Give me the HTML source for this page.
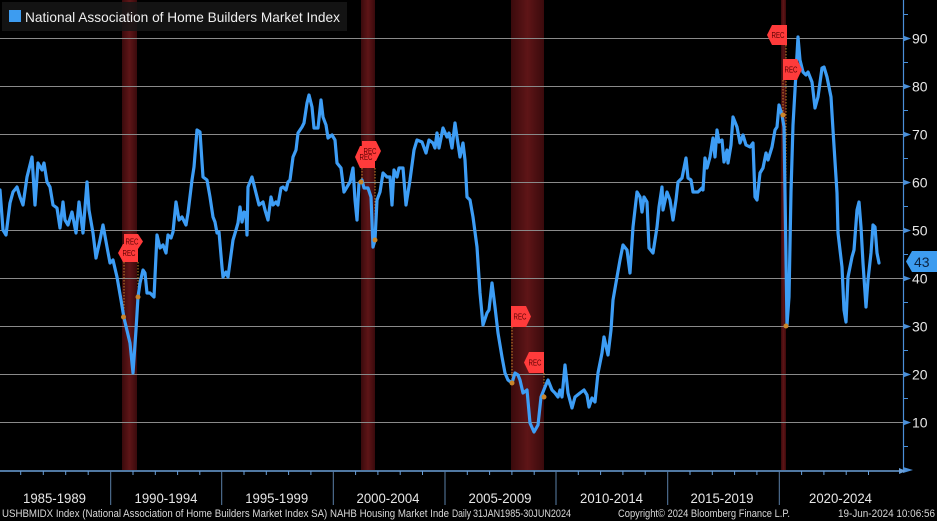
<!DOCTYPE html>
<html><head><meta charset="utf-8"><style>
html,body{margin:0;padding:0;background:#000;}
svg{display:block;}
text{font-family:"Liberation Sans",sans-serif;}
</style></head><body>
<svg width="937" height="521" viewBox="0 0 937 521" xmlns="http://www.w3.org/2000/svg">
<defs>
<linearGradient id="rb" x1="0" x2="1" y1="0" y2="0">
<stop offset="0" stop-color="#3a0a0c"/><stop offset="0.5" stop-color="#5e1517"/><stop offset="1" stop-color="#3a0a0c"/>
</linearGradient>
</defs>
<rect width="937" height="521" fill="#000"/>
<!-- recession bands -->
<rect x="122" y="0" width="15" height="470" fill="url(#rb)"/>
<rect x="361" y="0" width="14" height="470" fill="url(#rb)"/>
<rect x="511" y="0" width="33" height="470" fill="url(#rb)"/>
<rect x="781" y="0" width="5" height="470" fill="url(#rb)"/>
<!-- gridlines -->
<g stroke="#8a8a8a" stroke-width="1">
<line x1="0" x2="903" y1="38.5" y2="38.5"/>
<line x1="0" x2="903" y1="86.5" y2="86.5"/>
<line x1="0" x2="903" y1="134.5" y2="134.5"/>
<line x1="0" x2="903" y1="182.5" y2="182.5"/>
<line x1="0" x2="903" y1="230.5" y2="230.5"/>
<line x1="0" x2="903" y1="278.5" y2="278.5"/>
<line x1="0" x2="903" y1="326.5" y2="326.5"/>
<line x1="0" x2="903" y1="374.5" y2="374.5"/>
<line x1="0" x2="903" y1="422.5" y2="422.5"/>
</g>
<!-- legend -->
<rect x="2" y="2" width="345" height="29" fill="#161616" fill-opacity="0.85"/>
<rect x="9" y="10" width="12" height="12" fill="#3d9cf0"/>
<text x="25" y="22" font-size="14" fill="#eeeeee" textLength="315" lengthAdjust="spacingAndGlyphs">National Association of Home Builders Market Index</text>
<!-- dotted event lines -->
<g stroke="#c8842a" stroke-width="1" stroke-dasharray="1.5,1.5">
<line x1="124" x2="124" y1="262" y2="317"/>
<line x1="138" x2="138" y1="262" y2="297"/>
<line x1="362" x2="362" y1="168" y2="182"/>
<line x1="375" x2="375" y1="168" y2="240"/>
<line x1="512" x2="512" y1="327" y2="383"/>
<line x1="544" x2="544" y1="373" y2="397"/>
<line x1="786" x2="786" y1="45" y2="326"/>
<line x1="783" x2="783" y1="80" y2="115"/>
</g>
<!-- data line -->
<polyline fill="none" stroke="#3d9df5" stroke-width="3.2" stroke-linejoin="round" stroke-linecap="round" points="
0,190 3,230 6,235 10,203 13,192 17,187 20,197 23,205 27,177 32,157 35,205 38,163 42,170 44,163 47,182 50,187 53,205 57,208 60,228 63,202 65,220 68,225 72,212 76,233 79,202 83,233 87,182 89,210 93,233 96,258 100,240 103,225 107,247 110,263 113,260 117,277 121,300 124,318 130,343 133,373 136,330 138,297 140,283 143,270 145,273 147,293 150,293 154,297 157,235 160,248 163,245 166,253 168,235 171,238 173,232 176,202 179,220 182,217 186,225 188,213 192,180 194,167 197,130 200,132 203,177 207,180 210,197 213,217 215,222 217,233 219,232 222,267 223,277 226,272 228,277 233,240 236,230 238,223 240,207 242,222 244,212 246,213 247,235 248,187 252,177 256,193 259,205 263,202 265,210 268,220 271,197 273,205 276,202 278,205 281,188 283,187 286,190 288,182 290,180 293,157 296,150 298,133 302,127 304,123 307,103 309,95 312,107 314,128 318,128 321,100 323,117 326,125 328,138 332,135 335,140 337,163 341,168 344,192 347,187 350,182 353,168 355,200 357,220 359,183 362,180 364,188 368,188 371,197 373,247 375,240 377,200 380,192 383,173 387,177 390,177 392,205 394,170 397,177 399,168 403,168 406,205 410,180 414,150 417,140 422,142 426,153 429,140 433,143 435,148 437,133 439,148 443,128 447,137 449,133 452,148 455,123 457,137 460,157 463,143 465,160 467,197 470,200 473,217 477,247 480,293 483,325 487,313 489,310 492,283 495,307 498,333 502,357 505,373 508,380 512,383 515,373 518,375 520,380 523,393 527,390 530,423 534,432 538,425 541,397 545,387 548,380 552,390 555,393 558,397 560,390 562,397 565,365 568,393 572,408 575,397 580,393 584,390 587,395 589,407 592,398 595,402 598,373 602,353 604,337 608,355 611,330 613,300 617,277 620,260 623,245 627,250 630,273 633,227 637,192 640,197 642,212 644,197 647,202 649,248 653,253 657,227 659,207 662,187 663,210 667,192 670,200 673,220 676,200 678,182 682,178 686,158 688,178 691,180 693,192 698,192 702,188 703,190 705,158 707,168 710,157 713,138 715,157 717,130 719,142 722,140 724,162 727,150 728,163 731,145 733,117 737,127 740,143 743,135 746,145 750,147 753,143 755,197 757,200 760,173 763,168 766,153 768,160 772,147 775,130 777,127 779,105 782,115 784,127 787,325 789,297 791,192 793,125 795,90 798,37 800,60 803,72 806,75 808,72 812,82 815,108 818,97 822,68 824,67 827,77 831,97 833,130 837,193 838,233 842,267 844,310 846,322 848,277 852,257 854,250 857,210 859,202 861,227 863,263 866,307 868,280 871,253 873,225 875,227 877,253 879,263"/>
<!-- event dots -->
<g fill="#c8842a">
<circle cx="123.5" cy="317" r="2.5"/><circle cx="138" cy="297" r="2.5"/>
<circle cx="361" cy="182" r="2.5"/><circle cx="375" cy="240" r="2.5"/>
<circle cx="512" cy="383" r="2.5"/><circle cx="544" cy="397" r="2.5"/>
<circle cx="786" cy="326" r="2.5"/><circle cx="783" cy="115" r="2.5"/>
</g>
<!-- REC markers -->
<g fill="#ff3b3b">
<polygon points="124,234 138,234 143,241.5 138,249 124,249"/>
<polygon points="118,253 123,244 138,244 138,262 123,262"/>
<polygon points="362,141 376,141 381,151 376,161 362,161"/>
<polygon points="355,157 360,146 375,146 375,168 360,168"/>
<polygon points="511,306 526,306 531,316.5 526,327 511,327"/>
<polygon points="524,362.5 529,352 544,352 544,373 529,373"/>
<polygon points="767,35 772,25 787,25 787,45 772,45"/>
<polygon points="783,59 797,59 802,69.5 797,80 783,80"/>
</g>
<g font-size="8" fill="#5a0000" text-anchor="middle">
<text x="132" y="244.5" textLength="13" lengthAdjust="spacingAndGlyphs">REC</text>
<text x="129" y="256" textLength="13" lengthAdjust="spacingAndGlyphs">REC</text>
<text x="370" y="154" textLength="13" lengthAdjust="spacingAndGlyphs">REC</text>
<text x="366" y="160" textLength="13" lengthAdjust="spacingAndGlyphs">REC</text>
<text x="520" y="319.5" textLength="13" lengthAdjust="spacingAndGlyphs">REC</text>
<text x="535" y="365.5" textLength="13" lengthAdjust="spacingAndGlyphs">REC</text>
<text x="778" y="38" textLength="13" lengthAdjust="spacingAndGlyphs">REC</text>
<text x="791" y="72.5" textLength="13" lengthAdjust="spacingAndGlyphs">REC</text>
</g>
<!-- right axis -->
<line x1="903.5" y1="0" x2="903.5" y2="470" stroke="#4a8fd8" stroke-width="1.2"/>
<g fill="#4a8fd8">
<polygon points="903,35.5 911,38.5 903,41.5"/>
<polygon points="903,83.5 911,86.5 903,89.5"/>
<polygon points="903,131.5 911,134.5 903,137.5"/>
<polygon points="903,179.5 911,182.5 903,185.5"/>
<polygon points="903,227.5 911,230.5 903,233.5"/>
<polygon points="903,275.5 911,278.5 903,281.5"/>
<polygon points="903,323.5 911,326.5 903,329.5"/>
<polygon points="903,371.5 911,374.5 903,377.5"/>
<polygon points="903,419.5 911,422.5 903,425.5"/>
<polygon points="903,467 913,470 903,473"/>
</g>
<g stroke="#4a8fd8" stroke-width="1">
<line x1="904" x2="908" y1="14.5" y2="14.5"/>
<line x1="904" x2="908" y1="62.5" y2="62.5"/>
<line x1="904" x2="908" y1="110.5" y2="110.5"/>
<line x1="904" x2="908" y1="158.5" y2="158.5"/>
<line x1="904" x2="908" y1="206.5" y2="206.5"/>
<line x1="904" x2="908" y1="254.5" y2="254.5"/>
<line x1="904" x2="908" y1="302.5" y2="302.5"/>
<line x1="904" x2="908" y1="350.5" y2="350.5"/>
<line x1="904" x2="908" y1="398.5" y2="398.5"/>
<line x1="904" x2="908" y1="446.5" y2="446.5"/>
</g>
<g font-size="14" fill="#e6e6e6">
<text x="912" y="43.5">90</text>
<text x="912" y="91.5">80</text>
<text x="912" y="139.5">70</text>
<text x="912" y="187.5">60</text>
<text x="912" y="235.5">50</text>
<text x="912" y="283.5">40</text>
<text x="912" y="331.5">30</text>
<text x="912" y="379.5">20</text>
<text x="912" y="427.5">10</text>
</g>
<!-- last value label -->
<polygon points="906,261.5 912,251 937,251 937,272 912,272" fill="#3d9cf0"/>
<text x="914" y="267" font-size="14" fill="#0c2340">43</text>
<!-- x axis -->
<line x1="0" y1="471" x2="903" y2="471" stroke="#6a9fd8" stroke-width="1.5"/>
<polygon points="899,468 906,471 899,474" fill="#6a9fd8"/>
<g stroke="#5a7fa8" stroke-width="1">
<line x1="110.7" x2="110.7" y1="471" y2="505"/>
<line x1="221.7" x2="221.7" y1="471" y2="505"/>
<line x1="333.3" x2="333.3" y1="471" y2="505"/>
<line x1="445" x2="445" y1="471" y2="505"/>
<line x1="556" x2="556" y1="471" y2="505"/>
<line x1="667.7" x2="667.7" y1="471" y2="505"/>
<line x1="779.3" x2="779.3" y1="471" y2="505"/>
</g>
<g stroke="#6a9fd8" stroke-width="1">
<line x1="20.7" x2="20.7" y1="471" y2="475"/><line x1="43.3" x2="43.3" y1="471" y2="475"/><line x1="65.7" x2="65.7" y1="471" y2="475"/><line x1="88.2" x2="88.2" y1="471" y2="475"/>
<line x1="133" x2="133" y1="471" y2="475"/><line x1="155.3" x2="155.3" y1="471" y2="475"/><line x1="177.6" x2="177.6" y1="471" y2="475"/><line x1="199.8" x2="199.8" y1="471" y2="475"/>
<line x1="244" x2="244" y1="471" y2="475"/><line x1="266.3" x2="266.3" y1="471" y2="475"/><line x1="288.6" x2="288.6" y1="471" y2="475"/><line x1="310.9" x2="310.9" y1="471" y2="475"/>
<line x1="355.6" x2="355.6" y1="471" y2="475"/><line x1="377.9" x2="377.9" y1="471" y2="475"/><line x1="400.2" x2="400.2" y1="471" y2="475"/><line x1="422.5" x2="422.5" y1="471" y2="475"/>
<line x1="467.3" x2="467.3" y1="471" y2="475"/><line x1="489.6" x2="489.6" y1="471" y2="475"/><line x1="511.9" x2="511.9" y1="471" y2="475"/><line x1="534.2" x2="534.2" y1="471" y2="475"/>
<line x1="578.3" x2="578.3" y1="471" y2="475"/><line x1="600.6" x2="600.6" y1="471" y2="475"/><line x1="622.9" x2="622.9" y1="471" y2="475"/><line x1="645.2" x2="645.2" y1="471" y2="475"/>
<line x1="690" x2="690" y1="471" y2="475"/><line x1="712.3" x2="712.3" y1="471" y2="475"/><line x1="734.6" x2="734.6" y1="471" y2="475"/><line x1="756.9" x2="756.9" y1="471" y2="475"/>
<line x1="801.6" x2="801.6" y1="471" y2="475"/><line x1="823.9" x2="823.9" y1="471" y2="475"/><line x1="846.2" x2="846.2" y1="471" y2="475"/><line x1="868.5" x2="868.5" y1="471" y2="475"/>
</g>
<g font-size="14" fill="#e6e6e6" text-anchor="middle">
<text x="54.5" y="503" textLength="63" lengthAdjust="spacingAndGlyphs">1985-1989</text>
<text x="166" y="503" textLength="63" lengthAdjust="spacingAndGlyphs">1990-1994</text>
<text x="276.7" y="503" textLength="63" lengthAdjust="spacingAndGlyphs">1995-1999</text>
<text x="388" y="503" textLength="63" lengthAdjust="spacingAndGlyphs">2000-2004</text>
<text x="500" y="503" textLength="63" lengthAdjust="spacingAndGlyphs">2005-2009</text>
<text x="611.5" y="503" textLength="63" lengthAdjust="spacingAndGlyphs">2010-2014</text>
<text x="722" y="503" textLength="63" lengthAdjust="spacingAndGlyphs">2015-2019</text>
<text x="840.5" y="503" textLength="63" lengthAdjust="spacingAndGlyphs">2020-2024</text>
</g>
<!-- footer -->
<g font-size="11" fill="#d8d8d8">
<text x="2" y="517" textLength="447" lengthAdjust="spacingAndGlyphs">USHBMIDX Index (National Association of Home Builders Market Index SA) NAHB Housing Market Inde</text>
<text x="452" y="517" textLength="19" lengthAdjust="spacingAndGlyphs">Daily</text>
<text x="473" y="517" textLength="98" lengthAdjust="spacingAndGlyphs">31JAN1985-30JUN2024</text>
<text x="618" y="517" textLength="172" lengthAdjust="spacingAndGlyphs">Copyright© 2024 Bloomberg Finance L.P.</text>
<text x="838" y="517" textLength="97" lengthAdjust="spacingAndGlyphs">19-Jun-2024 10:06:56</text>
</g>
</svg>
</body></html>
